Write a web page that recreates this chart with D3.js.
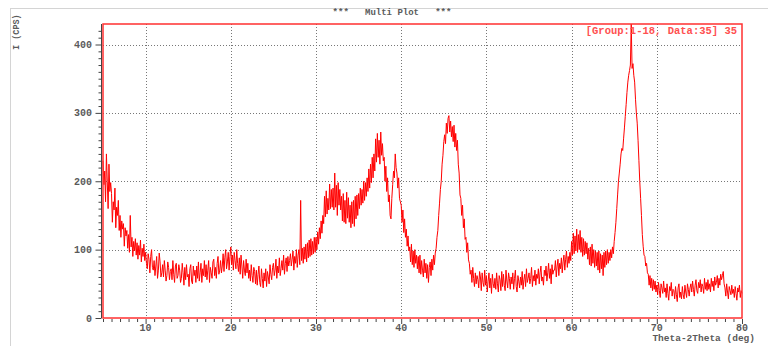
<!DOCTYPE html>
<html>
<head>
<meta charset="utf-8">
<script src="https://cdn.jsdelivr.net/npm/d3@7"></script>
<style>
  body { margin: 0; background: #fff; }
  svg { display: block; }
  .lbl { font-family: "Liberation Mono", "DejaVu Sans Mono", monospace; font-weight: bold; fill: #5a5a5a; }
</style>
</head>
<body>
<svg id="chart" width="768" height="346"></svg>
<script>
// scan settings (deg)
const startAngle = 5.0;
const stepAngle = 0.1;

// intensity (CPS), one row per degree, 0.1 deg apart
const counts = [
  [230,195,215,170,240,200,160,225,185,198], // 5
  [182,140,170,158,190,132,162,150,172,128], // 6
  [150,118,142,130,138,105,132,120,128,102], // 7
  [122,96,150,104,118,90,112,98,116,92],     // 8
  [110,86,106,92,114,82,102,90,108,84],      // 9
  [96,80,72,94,86,66,90,100,74,70],          // 10
  [84,62,76,90,58,70,95,82,60,66],           // 11
  [78,60,84,70,54,62,82,74,56,68],           // 12
  [72,56,84,64,52,76,80,58,62,78],           // 13
  [70,52,58,80,66,48,74,56,78,60],           // 14
  [64,46,72,78,54,50,76,62,70,52],           // 15
  [76,58,82,54,66,80,52,72,62,84],           // 16
  [60,78,56,70,84,52,74,66,58,82],           // 17
  [86,62,74,58,80,90,64,70,84,66],           // 18
  [76,94,68,88,100,72,82,96,70,90],          // 19
  [104,78,92,70,96,84,72,100,80,68],         // 20
  [88,64,92,76,58,84,70,62,86,66],           // 21
  [80,58,70,54,78,62,52,74,68,50],           // 22
  [70,48,64,76,52,46,72,58,44,66],           // 23
  [54,72,46,68,60,50,78,64,56,74],           // 24
  [80,62,70,86,58,76,66,88,62,72],           // 25
  [84,70,92,64,80,88,68,90,76,84],           // 26
  [94,76,86,98,70,90,80,100,74,92],          // 27
  [100,78,172,84,102,80,104,86,108,82],      // 28
  [110,88,114,90,116,92,112,94,118,96],      // 29
  [118,100,126,108,132,116,142,124,150,138], // 30
  [178,148,186,152,175,158,196,160,188,162], // 31
  [190,158,212,162,194,150,198,165,188,158], // 32
  [178,142,182,140,172,138,184,146,176,140], // 33
  [165,132,170,138,172,134,178,145,180,150], // 34
  [182,160,190,165,188,168,200,172,198,178], // 35
  [205,185,218,190,225,198,235,205,240,215], // 36
  [262,228,270,235,260,225,272,238,255,230], // 37
  [235,200,222,185,205,170,180,150,145,175], // 38
  [195,215,205,240,220,212,190,205,175,170], // 39
  [165,140,158,125,145,118,130,105,120,98],  // 40
  [104,82,108,78,98,74,100,80,92,72],        // 41
  [90,66,92,64,84,70,60,86,66,80],           // 42
  [58,78,52,74,82,62,86,70,92,78],           // 43
  [95,102,118,128,150,168,188,200,225,238],  // 44
  [258,268,255,285,270,292,296,272,288,265], // 45
  [280,258,282,250,270,245,260,225,212,180], // 46
  [175,150,165,132,145,115,118,96,110,85],   // 47
  [80,64,70,52,74,58,46,66,50,62],           // 48
  [56,44,68,60,40,66,52,46,70,48],           // 49
  [62,38,54,66,44,58,36,64,50,44],           // 50
  [58,42,66,50,38,62,56,40,68,46],           // 51
  [64,48,40,70,54,44,66,58,42,60],           // 52
  [50,66,42,58,70,46,38,62,54,44],           // 53
  [60,48,68,42,56,64,46,72,52,58],           // 54
  [66,50,58,74,46,62,54,70,48,64],           // 55
  [58,72,50,66,76,54,60,48,70,62],           // 56
  [76,54,66,80,58,72,50,78,64,70],           // 57
  [70,84,60,76,86,62,80,72,88,66],           // 58
  [82,92,70,86,98,74,90,80,96,84],           // 59
  [112,92,124,94,120,98,130,96,122,100],     // 60
  [128,96,118,90,116,92,112,94,110,86],      // 61
  [102,78,104,76,108,80,100,74,98,76],       // 62
  [96,70,98,66,94,72,92,62,96,74],           // 63
  [98,78,100,80,96,84,100,88,104,94],        // 64
  [112,125,140,160,180,200,212,225,240,248], // 65
  [245,262,278,295,312,330,345,355,362,370], // 66
  [430,365,372,355,345,320,300,285,260,230], // 67
  [200,175,150,122,105,92,90,76,80,66],      // 68
  [64,48,62,44,58,40,56,42,54,38],           // 69
  [48,34,52,40,30,50,44,36,54,38],           // 70
  [44,30,50,36,26,46,40,52,32,42],           // 71
  [40,28,46,34,24,44,50,30,38,28],           // 72
  [46,34,28,48,38,30,50,42,32,44],           // 73
  [50,38,54,42,32,48,56,40,36,52],           // 74
  [44,56,38,50,46,36,58,42,52,40],           // 75
  [56,42,50,38,58,46,54,40,60,48],           // 76
  [52,62,44,58,48,64,56,62,68,50],           // 77
  [44,32,50,38,28,46,40,34,48,36],           // 78
  [42,30,46,36,26,44,38,48,30,40],           // 79
  [36]                                       // 80
];

const xTicks = [10, 20, 30, 40, 50, 60, 70, 80];
const yTicks = [0, 100, 200, 300, 400];
const titleText = "***   Multi Plot   ***";
const infoText = "[Group:1-18, Data:35] 35";
const xTitle = "Theta-2Theta (deg)";
const yTitle = "I (CPS)";

const plotLeft = 103, plotRight = 742, plotTop = 24, plotBottom = 318;

const svg = d3.select("#chart");

let points = [];
counts.flat().forEach(function(c, i) {
    points.push({ angle: startAngle + i * stepAngle, cps: c });
});

const x = d3.scaleLinear().domain([5, 80]).range([plotLeft, plotRight]);
const y = d3.scaleLinear().domain([0, 430]).range([plotBottom, plotTop]);

// window border
svg.append("line").attr("x1", 10).attr("x2", 768).attr("y1", 8.5).attr("y2", 8.5)
    .attr("stroke", "#d4d4d4");
svg.append("line").attr("x1", 10.5).attr("x2", 10.5).attr("y1", 8).attr("y2", 346)
    .attr("stroke", "#d4d4d4");

// grid
const grid = svg.append("g").attr("stroke", "#777").attr("stroke-dasharray", "1,2");
grid.selectAll(".gx").data(xTicks.filter(d => d < 80)).join("line")
    .attr("x1", d => Math.round(x(d)) + 0.5).attr("x2", d => Math.round(x(d)) + 0.5)
    .attr("y1", plotTop).attr("y2", plotBottom);
grid.selectAll(".gy").data(yTicks.filter(d => d > 0)).join("line")
    .attr("y1", d => Math.round(y(d)) + 0.5).attr("y2", d => Math.round(y(d)) + 0.5)
    .attr("x1", plotLeft).attr("x2", plotRight);

// axes with minor ticks
const yAxis = d3.axisLeft(y).tickValues(d3.range(0, 430, 10)).tickSize(3).tickFormat("");
const ay = svg.append("g").attr("transform", `translate(${plotLeft - 1.5},0)`).call(yAxis);
ay.selectAll(".tick line").filter(d => d % 100 == 0).attr("x2", -6);
ay.select(".domain").attr("d", `M0,${plotTop}V${plotBottom}`);

const xAxis = d3.axisBottom(x).tickValues(d3.range(5, 81, 1)).tickSize(3).tickFormat("");
const ax = svg.append("g").attr("transform", `translate(0,${plotBottom + 1})`).call(xAxis);
ax.selectAll(".tick line").filter(d => d % 10 == 0).attr("y2", 5);
ax.select(".domain").remove();
svg.selectAll(".tick line").attr("stroke", "#444");
ay.select(".domain").attr("stroke", "#444");

svg.selectAll(".ylab").data(yTicks).join("text")
    .attr("class", "lbl").attr("font-size", 10)
    .attr("x", 92).attr("y", d => y(d) + 3.5).attr("text-anchor", "end")
    .text(d => d);
svg.selectAll(".xlab").data(xTicks).join("text")
    .attr("class", "lbl").attr("font-size", 10)
    .attr("x", d => x(d)).attr("y", 331).attr("text-anchor", "middle")
    .text(d => d);

svg.append("text").attr("class", "lbl").attr("font-size", 9.5)
    .attr("x", 755).attr("y", 341).attr("text-anchor", "end").text(xTitle);
svg.append("text").attr("class", "lbl").attr("font-size", 8.5)
    .attr("transform", "translate(19,50) rotate(-90)").text(yTitle);
svg.append("text").attr("class", "lbl").attr("font-size", 9)
    .attr("x", 392).attr("y", 15).attr("text-anchor", "middle")
    .attr("xml:space", "preserve").style("white-space", "pre").text(titleText);

// pattern
const line = d3.line().x(d => x(d.angle)).y(d => y(d.cps));
svg.append("path").datum(points)
    .attr("fill", "none").attr("stroke", "#ff0000").attr("stroke-width", 1)
    .attr("d", line);

// red frame
svg.append("rect").attr("x", plotLeft).attr("y", plotTop)
    .attr("width", plotRight - plotLeft).attr("height", plotBottom - plotTop)
    .attr("fill", "none").attr("stroke", "#ff3030").attr("stroke-width", 1.5);

svg.append("text").attr("class", "lbl").attr("font-size", 10.5)
    .attr("x", 737).attr("y", 34).attr("text-anchor", "end")
    .style("fill", "#ff5050").text(infoText);
</script>
</body>
</html>
